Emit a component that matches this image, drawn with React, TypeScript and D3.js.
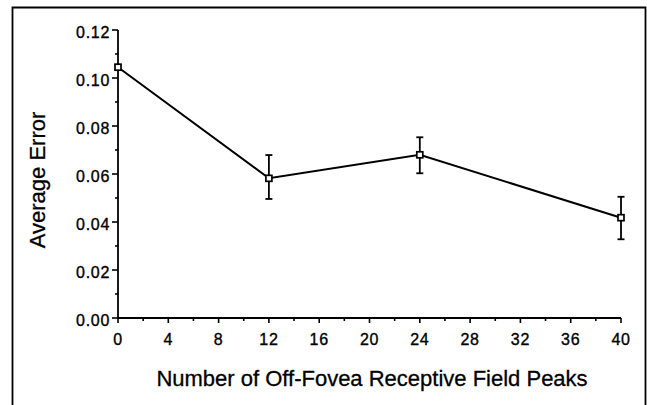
import React from "react";
import * as d3 from "d3";

const peaks = [0, 12, 24, 40];
const avgError = [0.1045, 0.0582, 0.0680, 0.0418];
const errLow = [0.1035, 0.0496, 0.0603, 0.0328];
const errHigh = [0.1055, 0.0679, 0.0753, 0.0505];
const xTicks = [0, 4, 8, 12, 16, 20, 24, 28, 32, 36, 40];
const yTicks = [0, 0.02, 0.04, 0.06, 0.08, 0.1, 0.12];
const xLabel = "Number of Off-Fovea Receptive Field Peaks";
const yLabel = "Average Error";

const W = 647, H = 405;
const font = "'Liberation Sans', Arial, Helvetica, sans-serif";

export default function App() {
  const x = d3.scaleLinear().domain([0, 40]).range([118, 621]);
  const y = d3.scaleLinear().domain([0, 0.12]).range([318, 30]);
  const line = d3.line<number>().x((d, i) => x(peaks[i])).y((d) => y(d));
  const xMinor = d3.range(0, 41, 2).filter((v) => v % 4 !== 0);
  const yMinor = d3.range(1, 12, 2).map((v) => v / 100);
  const tickText = { fontFamily: font, fontSize: 16, letterSpacing: 0.7, stroke: "#000", strokeWidth: 0.35 };
  const titleText = { fontFamily: font, fontSize: 22, stroke: "#000", strokeWidth: 0.3 };
  return (
    <svg width={W} height={H} style={{ position: "absolute", left: 0, top: 0, background: "#fff" }}>
      <rect x={0} y={0} width={W} height={H} fill="#fff" />
      <path d={`M12.5,${H + 2}V7.5H645.5V${H + 2}`} fill="none" stroke="#000" strokeWidth={1.8} />
      {/* axes */}
      <line x1={x(0)} x2={x(40)} y1={y(0)} y2={y(0)} stroke="#000" strokeWidth={1.8} />
      <line x1={x(0)} x2={x(0)} y1={y(0)} y2={y(0.12)} stroke="#000" strokeWidth={1.8} />
      {xTicks.map((t) => (
        <g key={"x" + t}>
          <line x1={x(t)} x2={x(t)} y1={y(0)} y2={y(0) + 5} stroke="#000" strokeWidth={1.6} />
          <text x={x(t)} y={344.5} textAnchor="middle" {...tickText}>{t}</text>
        </g>
      ))}
      {xMinor.map((t) => (
        <line key={"xm" + t} x1={x(t)} x2={x(t)} y1={y(0)} y2={y(0) + 3} stroke="#000" strokeWidth={1.6} />
      ))}
      {yTicks.map((t) => (
        <g key={"y" + t}>
          <line x1={x(0) - 6} x2={x(0)} y1={y(t)} y2={y(t)} stroke="#000" strokeWidth={1.6} />
          <text x={110} y={y(t) + 7.5} textAnchor="end" {...tickText}>{t.toFixed(2)}</text>
        </g>
      ))}
      {yMinor.map((t) => (
        <line key={"ym" + t} x1={x(0) - 3} x2={x(0)} y1={y(t)} y2={y(t)} stroke="#000" strokeWidth={1.6} />
      ))}
      {/* data line */}
      <path d={line(avgError) || ""} fill="none" stroke="#000" strokeWidth={2} />
      {peaks.map((p, i) => (
        <g key={"e" + p}>
          <line x1={x(p)} x2={x(p)} y1={y(errLow[i])} y2={y(errHigh[i])} stroke="#000" strokeWidth={1.8} />
          <line x1={x(p) - 3.5} x2={x(p) + 3.5} y1={y(errLow[i])} y2={y(errLow[i])} stroke="#000" strokeWidth={1.8} />
          <line x1={x(p) - 3.5} x2={x(p) + 3.5} y1={y(errHigh[i])} y2={y(errHigh[i])} stroke="#000" strokeWidth={1.8} />
          <rect x={x(p) - 3} y={y(avgError[i]) - 3} width={6} height={6} fill="#fff" stroke="#000" strokeWidth={1.7} />
        </g>
      ))}
      <text x={372} y={386} textAnchor="middle" {...titleText}>{xLabel}</text>
      <text transform={`translate(44.5,180) rotate(-90)`} textAnchor="middle" {...titleText}>{yLabel}</text>
    </svg>
  );
}
